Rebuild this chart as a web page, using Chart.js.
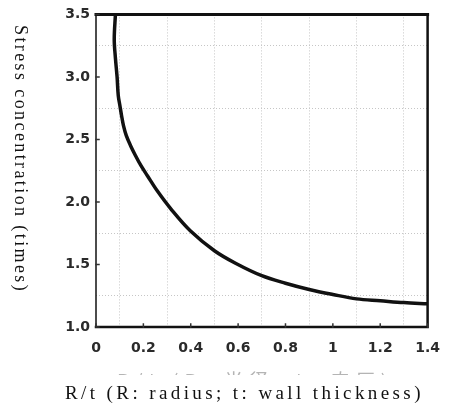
<!DOCTYPE html>
<html>
<head>
<meta charset="utf-8">
<script src="https://cdn.jsdelivr.net/npm/chart.js@4/dist/chart.umd.min.js"></script>
<style>
  html, body { margin: 0; padding: 0; background: #fff; }
  #wrap { position: relative; width: 453px; height: 410px; overflow: hidden; }
  #grafico { position: absolute; left: 0; top: 0; }
  .titulo { position: absolute; font-family: "Liberation Serif", serif; color: #111; white-space: nowrap; }
  #tituloY { left: 10px; top: 25px; font-size: 18px; letter-spacing: 2.4px; writing-mode: vertical-rl; }
  #tituloX { left: 65px; top: 382px; font-size: 19px; letter-spacing: 3.4px; }
  #fantasma { position: absolute; left: 117px; top: 370px; width: 285px; height: 5px; overflow: hidden; }
  #fantasma span { position: absolute; top: 0; left: 0; font: 19px "Noto Sans CJK JP", sans-serif; line-height: 19px; color: #b4b4b4; letter-spacing: 6px; white-space: nowrap; }
</style>
</head>
<body>
<div id="wrap">
  <canvas id="grafico" width="453" height="410"></canvas>
  <div id="tituloY" class="titulo">Stress concentration (times)</div>
  <div id="fantasma"><span>R/t (R: 半径, t: 肉厚)</span></div>
  <div id="tituloX" class="titulo">R/t (R: radius; t: wall thickness)</div>
</div>
<script>
// valores (R/t -> concentração de tensão)
const rtValores = [0.082, 0.077, 0.082, 0.089, 0.094, 0.101, 0.108, 0.116, 0.128, 0.146, 0.167, 0.19, 0.217, 0.26, 0.316, 0.398, 0.5, 0.589, 0.7, 0.8, 0.9, 1.0, 1.1, 1.2, 1.3, 1.4];
const tensaoValores = [3.5, 3.3, 3.15, 3.0, 2.85, 2.77, 2.69, 2.61, 2.53, 2.45, 2.37, 2.29, 2.21, 2.085, 1.945, 1.77, 1.61, 1.51, 1.41, 1.35, 1.30, 1.26, 1.225, 1.21, 1.195, 1.185];

const xRotulos = ['0', '0.2', '0.4', '0.6', '0.8', '1', '1.2', '1.4'];
const yRotulos = ['1.0', '1.5', '2.0', '2.5', '3.0', '3.5'];

const corGrade = '#c6c6c6';
const fonteTicks = { family: 'DejaVu Sans', size: 14, weight: 'bold' };

function xMaior(v) { return Math.round(v * 10) % 2 === 0; }
function yMaior(v) { return Math.round((v - 1) * 4) % 2 === 0; }

// moldura e tracinhos internos
const moldura = {
    id: 'moldura',
    afterDraw(chart) {
        const { ctx, chartArea: a, scales } = chart;
        ctx.save();
        ctx.strokeStyle = '#111';
        ctx.lineCap = 'square';

        ctx.lineWidth = 1.5;
        ctx.beginPath();
        ctx.moveTo(a.left, a.top); ctx.lineTo(a.left, a.bottom);
        ctx.stroke();

        ctx.lineWidth = 2.5;
        ctx.beginPath();
        ctx.moveTo(a.left, a.bottom); ctx.lineTo(a.right, a.bottom);
        ctx.moveTo(a.right, a.bottom); ctx.lineTo(a.right, a.top);
        ctx.stroke();

        ctx.lineWidth = 3;
        ctx.beginPath();
        ctx.moveTo(a.left, a.top); ctx.lineTo(a.right, a.top);
        ctx.stroke();

        ctx.lineWidth = 1.5;
        ctx.strokeStyle = '#333';
        ctx.beginPath();
        xRotulos.forEach(function (r, i) {
            const px = scales.x.getPixelForValue(i * 0.2);
            ctx.moveTo(px, a.bottom); ctx.lineTo(px, a.bottom - 3);
        });
        yRotulos.forEach(function (r, i) {
            const py = scales.y.getPixelForValue(1 + i * 0.5);
            ctx.moveTo(a.left, py); ctx.lineTo(a.left + 3, py);
        });
        ctx.stroke();
        ctx.restore();
    }
};

const ctx = document.getElementById('grafico').getContext('2d');

new Chart(ctx, {
    type: 'scatter',
    data: {
        datasets: [{
            data: rtValores.map((x, i) => ({ x: x, y: tensaoValores[i] })),
            showLine: true,
            borderColor: '#111',
            borderWidth: 3.5,
            pointRadius: 0,
            tension: 0.35,
            fill: false
        }]
    },
    options: {
        responsive: false,
        animation: false,
        layout: { padding: { top: 14, right: 15, bottom: 0, left: 0 } },
        plugins: {
            legend: { display: false },
            tooltip: { enabled: false }
        },
        scales: {
            x: {
                type: 'linear',
                min: 0,
                max: 1.4,
                afterFit: function (s) { s.height = 83; },
                border: { display: false, dash: [1, 2] },
                grid: {
                    drawTicks: false,
                    lineWidth: 1,
                    color: c => xMaior(c.tick.value) ? 'rgba(0,0,0,0)' : corGrade
                },
                ticks: {
                    stepSize: 0.1,
                    autoSkip: false,
                    maxRotation: 0,
                    padding: 13,
                    color: '#2a2a2a',
                    font: fonteTicks,
                    callback: v => xMaior(v) ? xRotulos[Math.round(v * 5)] : ''
                }
            },
            y: {
                type: 'linear',
                min: 1,
                max: 3.5,
                afterFit: function (s) { s.width = 96; },
                border: { display: false, dash: [1, 2] },
                grid: {
                    drawTicks: false,
                    lineWidth: 1,
                    color: c => yMaior(c.tick.value) ? 'rgba(0,0,0,0)' : corGrade
                },
                ticks: {
                    stepSize: 0.25,
                    autoSkip: false,
                    padding: 6,
                    color: '#2a2a2a',
                    font: fonteTicks,
                    callback: v => yMaior(v) ? yRotulos[Math.round((v - 1) * 2)] : ''
                }
            }
        }
    },
    plugins: [moldura]
});
</script>
</body>
</html>
